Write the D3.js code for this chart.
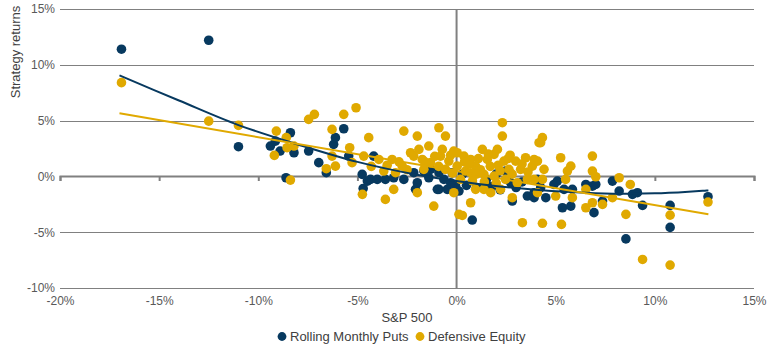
<!DOCTYPE html>
<html lang="en">
<head>
<meta charset="UTF-8">
<title>Strategy returns vs S&P 500</title>
<script src="https://d3js.org/d3.v7.min.js"></script>
<style>
  body { margin: 0; background: #fff; font-family: "Liberation Sans", Arial, sans-serif; }
  .tick text { fill: #595959; font-size: 12px; font-family: "Liberation Sans", Arial, sans-serif; }
  .grid line { stroke: #808080; stroke-width: 1; }
  .title { fill: #404040; font-size: 13px; }
</style>
</head>
<body>
<div id="chart"></div>
<script>
const width = 770, height = 351;
const plotLeft = 60, plotRight = 754, plotTop = 9, plotBottom = 288;

// tick values (percent)
const xTicks = [-20, -15, -10, -5, 0, 5, 10, 15];
const yTicks = [-10, -5, 0, 5, 10, 15];

const seriesNames = ["Rolling Monthly Puts", "Defensive Equity"];
const colors = ["#07395f", "#e0a900"];

// Rolling Monthly Puts: [S&P 500 %, strategy %]
const puts = [
  [-16.9, 11.4], [-12.5, 12.2], [-11.0, 2.66],
  [-9.39, 2.72], [-9.14, 3.16], [-8.38, 3.91], [-8.2, 2.12], [-8.9, 2.27], [-8.6, -0.12],
  [-7.46, 2.27], [-6.95, 1.23], [-6.57, 0.33], [-6.2, 2.87], [-6.11, 3.47], [-5.69, 4.27],
  [-5.44, 1.82], [-4.76, 0.18], [-4.71, -1.08], [-4.5, -0.42],
  [-4.34, -0.27], [-4.0, -0.27], [-3.59, -0.27], [-3.17, -0.12], [-2.66, -0.27], [-2.16, 0.33],
  [-2.07, -1.16], [-1.65, 0.48], [-1.4, -0.12], [-0.89, 0.33], [-0.89, -1.16], [-0.64, -0.27],
  [-0.47, -1.16], [-0.05, -0.87], [-0.22, 0.33], [-4.18, 1.82], [-1.98, -0.57], [-1.31, 0.63],
  [-0.97, -1.16], [-0.3, -0.57],
  [0.79, -3.91], [1.38, -0.87], [2.81, -2.21], [3.57, -1.76], [2.73, -0.57], [2.47, 0.48],
  [0.12, -1.31], [3.91, -1.46], [4.08, -0.27],
  [0.5, -0.8], [1.0, -1.0], [1.8, -0.9], [2.2, -1.2], [3.0, -1.0], [3.3, -0.5], [1.5, -0.3],
  [0.3, 0.2], [2.0, 0.2],
  [3.91, -1.91], [4.5, -1.91], [4.91, -0.72], [5.08, -0.42], [5.42, -1.16], [5.84, -1.16],
  [5.34, -2.81], [5.76, -2.66], [6.52, -0.72], [6.85, -0.87], [7.02, -0.72], [6.93, -3.25],
  [7.36, -2.21], [7.86, -0.42], [8.2, -1.31], [4.24, -1.01],
  [8.87, -1.61], [9.12, -1.46], [9.38, -2.6], [8.54, -5.6], [10.77, -2.6], [10.77, -4.57],
  [12.68, -1.82]
];

// Defensive Equity: [S&P 500 %, strategy %]
const defensive = [
  [-16.9, 8.4], [-12.5, 4.95], [-11.0, 4.57],
  [-9.09, 4.06], [-9.19, 1.88], [-8.59, 3.47], [-8.55, 2.57], [-8.2, 2.72], [-8.38, -0.33],
  [-7.46, 5.11], [-7.17, 5.56], [-6.28, 4.21], [-6.28, 1.82], [-6.57, 0.69], [-6.11, 0.92],
  [-5.69, 5.56], [-5.07, 6.15], [-5.39, 2.57], [-5.27, 1.23], [-4.68, 1.82], [-4.75, -1.61],
  [-4.43, 3.47],
  [-3.92, 1.52], [-3.67, 0.48], [-3.59, -2.06], [-3.25, 1.52], [-3.17, -1.16], [-3.08, 0.33],
  [-2.74, 0.92], [-2.66, 4.06], [-2.32, 2.12], [-2.16, 1.82], [-1.98, 3.61], [-1.98, -1.46],
  [-1.9, 2.42], [-1.73, 1.52], [-1.65, 0.63], [-1.4, 2.72], [-1.31, 1.23], [-1.15, -2.66],
  [-0.89, 4.36], [-0.81, 1.82], [-0.72, 2.42], [-0.56, 3.61], [-0.56, 0.63], [-0.39, 1.37],
  [-0.14, 2.27], [-0.14, -1.46], [0.03, 0.92], [0.12, -3.4],
  [-3.5, 1.0], [-2.9, 1.3], [-2.5, 0.6], [-1.1, 1.8], [-0.3, 1.9], [-0.9, 0.9], [-1.6, 1.3],
  [-0.2, 0.3], [-4.3, 0.9],
  [2.31, 4.81], [2.31, 3.61], [0.03, 2.12], [0.37, 1.82], [0.71, 1.52], [0.96, 0.92],
  [1.3, 2.42], [1.55, 1.52], [1.89, 1.97], [2.06, 2.42], [2.39, 1.37], [2.64, 0.63],
  [2.98, 1.37], [3.23, 0.63], [3.48, 1.67], [3.82, 0.92], [4.08, 1.37], [4.16, 3.02],
  [0.71, -2.36], [0.29, -3.5], [0.96, -1.16], [1.38, -1.16], [1.72, -1.46], [2.22, -1.16],
  [2.81, -1.91], [3.32, -4.15], [0.71, 0.33], [1.38, 0.18], [1.89, 0.03], [2.47, -0.27],
  [3.06, -0.57], [3.57, -0.27], [3.91, -0.27], [0.2, -0.27], [0.45, 0.48],
  [0.6, 1.1], [1.1, 1.6], [1.2, 0.6], [1.7, 0.9], [2.1, 1.0], [2.6, 1.6], [2.8, 0.2],
  [3.3, 1.1], [1.0, 0.2], [2.2, 0.5], [0.4, 1.3], [1.6, 2.0], [2.7, 1.9], [3.6, 0.4],
  [1.4, -0.5], [2.0, -0.6], [0.8, -0.4],
  [4.33, 3.47], [4.24, 3.02], [3.91, 1.52], [4.41, 0.63], [4.33, -0.27], [5.25, 1.67],
  [5.59, 0.48], [5.76, 0.92], [5.5, -0.27], [5.84, -1.91], [5.0, -1.76], [4.08, -1.46],
  [6.85, 1.82], [6.85, 0.48], [7.02, -0.03], [6.52, -1.16], [6.52, -2.81], [6.85, -2.36],
  [7.36, -2.51], [7.86, -1.91], [8.2, -0.12], [4.33, -4.2], [5.29, -4.3],
  [8.76, -0.72], [8.54, -3.4], [9.38, -7.44], [10.77, -7.95], [10.77, -3.47], [12.68, -2.3]
];

// trend lines
const putsTrend = [[-17, 9.05], [-14, 6.8], [-11, 4.6], [-8, 2.86], [-5, 1.3], [-2, 0.15],
  [1, -0.65], [4, -1.2], [7, -1.5], [10, -1.52], [12.7, -1.25]];
const defensiveTrend = [[-17, 5.65], [12.7, -3.4]];

const x = d3.scaleLinear().domain([-20, 15]).range([plotLeft, plotRight]);
const y = d3.scaleLinear().domain([-10, 15]).range([plotBottom, plotTop]);

const svg = d3.select("#chart").append("svg")
  .attr("width", width).attr("height", height);

// horizontal gridlines (except zero which is the axis)
svg.append("g").attr("class", "grid")
  .selectAll("line").data(yTicks.filter(d => d !== 0)).enter()
  .append("line")
  .attr("x1", plotLeft).attr("x2", plotRight)
  .attr("y1", d => Math.round(y(d)) + 0.5).attr("y2", d => Math.round(y(d)) + 0.5);

// vertical line at x = 0
svg.append("line")
  .attr("x1", x(0)).attr("x2", x(0))
  .attr("y1", y(15)).attr("y2", y(-10))
  .attr("stroke", "#808080").attr("stroke-width", 2);

// zero line with tick marks
const zeroAxis = svg.append("g")
  .attr("transform", `translate(0,${Math.round(y(0))})`)
  .call(d3.axisBottom(x).tickValues(xTicks).tickSize(5).tickSizeOuter(5).tickFormat(""));
zeroAxis.select(".domain").attr("stroke", "#808080").attr("stroke-width", 2);
zeroAxis.selectAll(".tick line").attr("stroke", "#808080").attr("stroke-width", 2);

// x tick labels at bottom
const xAxis = svg.append("g")
  .attr("transform", `translate(0,${plotBottom})`)
  .call(d3.axisBottom(x).tickValues(xTicks).tickSize(0).tickPadding(8).tickFormat(d => d + "%"));
xAxis.select(".domain").remove();

// y tick labels
const yAxis = svg.append("g")
  .attr("transform", `translate(${plotLeft},0)`)
  .call(d3.axisLeft(y).tickValues(yTicks).tickSize(0).tickPadding(5).tickFormat(d => d + "%"));
yAxis.select(".domain").remove();

// points
[puts, defensive].forEach((data, i) => {
  svg.append("g").selectAll("circle").data(data).enter()
    .append("circle")
    .attr("cx", d => x(d[0])).attr("cy", d => y(d[1]))
    .attr("r", 4.8)
    .attr("fill", colors[i]);
});

// trend lines
const line = d3.line().x(d => x(d[0])).y(d => y(d[1])).curve(d3.curveCatmullRom);
[putsTrend, defensiveTrend].forEach((data, i) => {
  svg.append("path").datum(data)
    .attr("d", line)
    .attr("fill", "none")
    .attr("stroke", colors[i])
    .attr("stroke-width", 2);
});

// axis titles
svg.append("text").attr("class", "title")
  .attr("x", (plotLeft + plotRight) / 2).attr("y", 322)
  .attr("text-anchor", "middle")
  .text("S&P 500");

svg.append("text").attr("class", "title")
  .attr("transform", "rotate(-90)")
  .attr("x", -52).attr("y", 20)
  .attr("text-anchor", "middle")
  .text("Strategy returns");

// legend
const legend = svg.append("g").attr("transform", "translate(0,336.5)");
const legendX = [282, 420];
seriesNames.forEach((name, i) => {
  legend.append("circle").attr("cx", legendX[i]).attr("cy", 0).attr("r", 4.4).attr("fill", colors[i]);
  legend.append("text").attr("class", "title")
    .attr("x", legendX[i] + 8).attr("y", 4.5)
    .text(name);
});
</script>
</body>
</html>
